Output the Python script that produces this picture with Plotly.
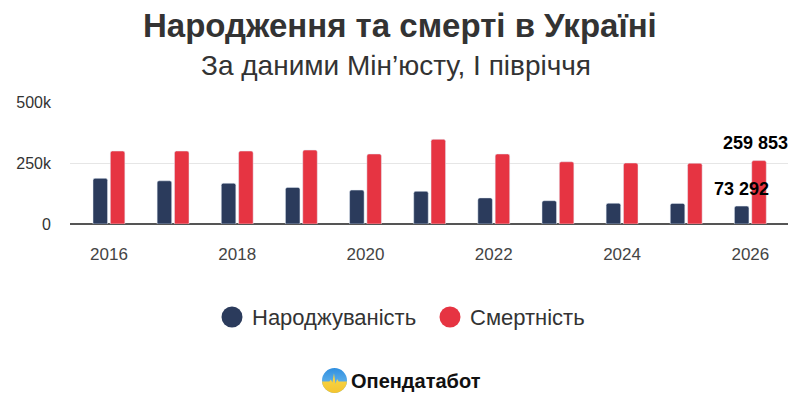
import base64
import plotly.graph_objects as go

years = ["2016", "2017", "2018", "2019", "2020", "2021", "2022", "2023", "2024", "2025", "2026"]
births = [187000, 177000, 167000, 150000, 139000, 134000, 107000, 95500, 85000, 84500, 73292]
deaths = [299000, 299000, 299000, 303000, 287000, 347000, 287000, 255000, 250000, 249000, 259853]
tick_years = ["2016", "2018", "2020", "2022", "2024", "2026"]
y_ticks = [0, 250000, 500000]
y_ticktext = ["0", "250k", "500k"]
series_names = ["Народжуваність", "Смертність"]

NAVY = "#2b3b5c"
RED = "#e63442"
FONT = "Liberation Sans, Arial, sans-serif"

W, H = 800, 400
L, R, T, B = 70, 12, 102, 176
PW, PH = W - L - R, H - T - B


def px_x(px):
    return (px - L) / PW


def px_y(py):
    return (H - B - py) / PH


fig = go.Figure()
fig.add_bar(x=years, y=births, name=series_names[0], marker=dict(color=NAVY, cornerradius=2),
            showlegend=False)
fig.add_bar(x=years, y=deaths, name=series_names[1], marker=dict(color=RED, cornerradius=2),
            showlegend=False)

last = len(years) - 1
# value labels for last year
fig.add_annotation(xref="x", yref="y", x=last, y=deaths[-1],
                   text="<b>" + f"{deaths[-1]:,}".replace(",", " ") + "</b>",
                   showarrow=False, xshift=5, yshift=18, yanchor="middle",
                   font=dict(family=FONT, size=18, color="#000000"))
fig.add_annotation(xref="x", yref="y", x=last, y=births[-1],
                   text="<b>" + f"{births[-1]:,}".replace(",", " ") + "</b>",
                   showarrow=False, xshift=-9, yshift=17, yanchor="middle",
                   font=dict(family=FONT, size=18, color="#000000"))

# title and subtitle
fig.add_annotation(xref="paper", yref="paper", x=px_x(400), y=px_y(25),
                   text="<b>Народження та смерті в Україні</b>", showarrow=False,
                   xanchor="center", yanchor="middle",
                   font=dict(family=FONT, size=33, color="#333333"))
fig.add_annotation(xref="paper", yref="paper", x=px_x(396), y=px_y(65),
                   text="За даними Мін’юсту, І півріччя", showarrow=False,
                   xanchor="center", yanchor="middle",
                   font=dict(family=FONT, size=28, color="#333333"))

# manual legend with round markers
legend_items = [(series_names[0], NAVY, 232, 250), (series_names[1], RED, 450, 468)]
for name, col, cx, tx in legend_items:
    r = 10.5
    fig.add_shape(type="circle", xref="paper", yref="paper",
                  x0=px_x(cx - r), x1=px_x(cx + r), y0=px_y(317 + r), y1=px_y(317 - r),
                  fillcolor=col, line=dict(width=0))
    fig.add_annotation(xref="paper", yref="paper", x=px_x(tx), y=px_y(317),
                       text=name, showarrow=False, xanchor="left", yanchor="middle",
                       font=dict(family=FONT, size=22, color="#333333"))

# brand
fig.add_annotation(xref="paper", yref="paper", x=px_x(349), y=px_y(381),
                   text="<b>Опендатабот</b>", showarrow=False, xanchor="left", yanchor="middle",
                   font=dict(family=FONT, size=20, color="#111111"))

svg = """<svg xmlns='http://www.w3.org/2000/svg' width='48' height='48' viewBox='0 0 48 48'>
<defs>
<linearGradient id='b' x1='0' y1='0' x2='0' y2='1'><stop offset='0' stop-color='#2f8fe0'/><stop offset='1' stop-color='#7cc4f0'/></linearGradient>
<linearGradient id='y' x1='0' y1='0' x2='0' y2='1'><stop offset='0' stop-color='#f8d94a'/><stop offset='1' stop-color='#f4c430'/></linearGradient>
<clipPath id='c'><circle cx='24' cy='24' r='24'/></clipPath>
</defs>
<g clip-path='url(#c)'>
<rect x='0' y='0' width='48' height='48' fill='url(#b)'/>
<path d='M0 26 L14 26 L17 22 L20 28 L23 10 L26 30 L29 21 L32 26 L48 26 L48 48 L0 48 Z' fill='url(#y)'/>
</g>
</svg>"""
src = "data:image/svg+xml;base64," + base64.b64encode(svg.encode()).decode()
fig.add_layout_image(source=src, xref="paper", yref="paper", x=px_x(322), y=px_y(368),
                     sizex=25 / PW, sizey=25 / PH, xanchor="left", yanchor="top",
                     sizing="stretch", layer="above")

fig.update_layout(
    width=W, height=H,
    margin=dict(l=L, r=R, t=T, b=B, autoexpand=False),
    paper_bgcolor="white", plot_bgcolor="white",
    barmode="group", bargap=0.46, bargroupgap=0.16,
    font=dict(family=FONT, color="#333333"),
    showlegend=False,
    xaxis=dict(type="category", range=[-0.607, 10.587], tickmode="array", tickvals=tick_years,
               ticktext=tick_years, showgrid=False, showline=False, zeroline=False,
               tickfont=dict(family=FONT, size=17, color="#444444"), ticks="", ticklabelstandoff=18),
    yaxis=dict(range=[0, 500000], tickmode="array", tickvals=y_ticks, ticktext=y_ticktext,
               showgrid=True, gridcolor="#e6e6e6", gridwidth=1, zeroline=True,
               zerolinecolor="#555555", zerolinewidth=2, showline=False,
               tickfont=dict(family=FONT, size=16, color="#333333"), ticks="", ticklabelstandoff=18),
)

fig.write_html("out.html")
